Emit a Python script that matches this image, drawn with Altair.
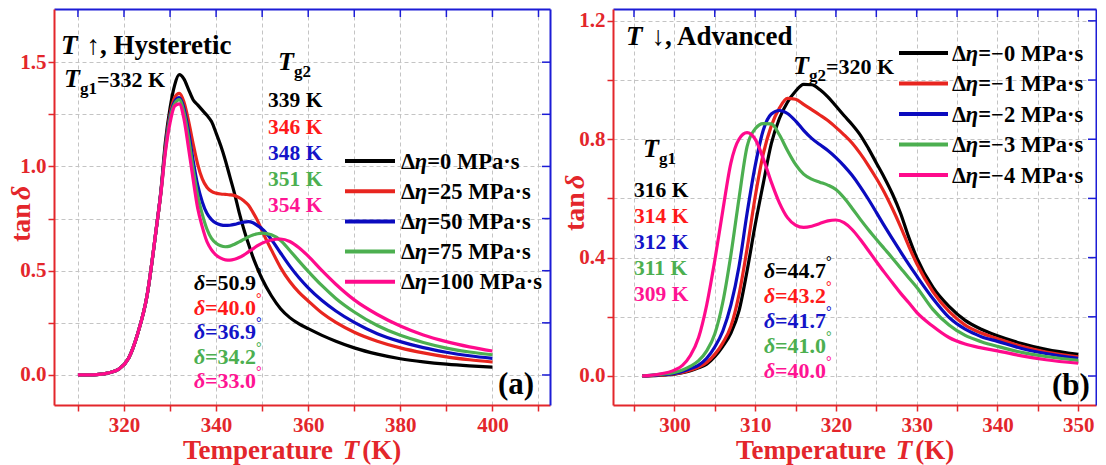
import altair as alt
import pandas as pd

FONT = "Liberation Serif, Times New Roman, DejaVu Serif, serif"
AX_RED = "#e3262b"
AX_BLUE = "#1c1cd6"
GRID = "#c4c4c4"
LINE_COLORS = ["#000000", "#e8251f", "#0b0bbf", "#4caf50", "#ff0a8c"]
TEXT_COLORS = ["#000000", "#ff1a1a", "#1414c8", "#4caf50", "#ff1493"]

# ---------------- data: panel (a), heating ----------------
temp_a = [310, 314, 317, 319, 321, 323, 325, 327, 328, 329, 330, 331, 332, 333, 334, 335,
          336, 337, 338, 339, 340, 341, 342, 343, 344, 345, 346, 347, 348, 349, 350, 352,
          354, 356, 358, 360, 363, 366, 370, 375, 380, 385, 390, 395, 400]
tan_a_0 = [0, 0.002, 0.012, 0.03, 0.08, 0.2, 0.38, 0.7, 0.88,
           1.12, 1.28, 1.39, 1.44, 1.42, 1.37, 1.32, 1.295, 1.27, 1.245, 1.215, 1.16, 1.10,
           1.03, 0.95, 0.87, 0.78, 0.70, 0.63, 0.565, 0.51, 0.46,
           0.38, 0.318, 0.275, 0.245, 0.222,
           0.19, 0.162, 0.13, 0.1, 0.078, 0.063, 0.052, 0.044, 0.038]
tan_a_25 = [0, 0.002, 0.012, 0.03, 0.08, 0.2, 0.38, 0.7, 0.875,
            1.10, 1.25, 1.33, 1.35, 1.31, 1.22, 1.11, 1.01, 0.94, 0.90, 0.88, 0.872, 0.868,
            0.866, 0.864, 0.86, 0.85, 0.835, 0.815, 0.78, 0.74, 0.69,
            0.60, 0.515, 0.448, 0.396, 0.355,
            0.297, 0.252, 0.205, 0.162, 0.13, 0.106, 0.087, 0.073, 0.062]
tan_a_50 = [0, 0.002, 0.012, 0.03, 0.08, 0.2, 0.38, 0.7, 0.875,
            1.09, 1.24, 1.31, 1.33, 1.28, 1.17, 1.03, 0.91, 0.83, 0.775, 0.745, 0.728, 0.72,
            0.717, 0.718, 0.722, 0.728, 0.733, 0.735, 0.73, 0.716, 0.70,
            0.65, 0.585, 0.522, 0.466, 0.418,
            0.357, 0.307, 0.252, 0.198, 0.16, 0.131, 0.109, 0.092, 0.08]
tan_a_75 = [0, 0.002, 0.012, 0.03, 0.08, 0.2, 0.38, 0.7, 0.87,
            1.08, 1.23, 1.30, 1.32, 1.26, 1.14, 0.99, 0.86, 0.77, 0.70, 0.655, 0.632, 0.62,
            0.615, 0.618, 0.627, 0.638, 0.65, 0.662, 0.671, 0.677, 0.68,
            0.672, 0.645, 0.597, 0.546, 0.497,
            0.428, 0.367, 0.302, 0.237, 0.19, 0.156, 0.129, 0.11, 0.097]
tan_a_100 = [0, 0.002, 0.012, 0.03, 0.08, 0.2, 0.38, 0.7, 0.87,
             1.07, 1.21, 1.29, 1.30, 1.23, 1.09, 0.94, 0.80, 0.71, 0.64, 0.60, 0.575, 0.56,
             0.552, 0.551, 0.555, 0.563, 0.575, 0.59, 0.605, 0.62, 0.632,
             0.647, 0.652, 0.64, 0.61, 0.57,
             0.5, 0.435, 0.36, 0.29, 0.235, 0.192, 0.16, 0.135, 0.115]
eta_a = ["0", "25", "50", "75", "100"]
tg2_a = ["339 K", "346 K", "348 K", "351 K", "354 K"]
delta_a = ["50.9", "40.0", "36.9", "34.2", "33.0"]

# ---------------- data: panel (b), cooling ----------------
temp_b = [296, 298, 300, 301, 302, 303, 304, 305, 306, 307, 308, 309, 310, 311, 312, 313,
          314, 315, 316, 317, 318, 319, 320, 321, 322, 323, 324, 325, 326, 327, 328, 329,
          330, 332, 334, 336, 338, 340, 343, 346, 350]
tan_b_0 = [0, 0.002, 0.006, 0.011, 0.018, 0.028, 0.04, 0.065, 0.1, 0.145,
           0.22, 0.355, 0.51, 0.65, 0.785, 0.87, 0.925, 0.962, 0.985, 0.984,
           0.968, 0.943, 0.912, 0.88, 0.85, 0.815, 0.77, 0.72, 0.67, 0.615,
           0.55, 0.47, 0.40, 0.30, 0.235, 0.188, 0.158, 0.136, 0.11, 0.09, 0.073]
tan_b_1 = [0, 0.003, 0.007, 0.012, 0.02, 0.03, 0.046, 0.073, 0.112, 0.168,
           0.275, 0.43, 0.605, 0.75, 0.845, 0.905, 0.938, 0.935, 0.918, 0.9,
           0.882, 0.863, 0.84, 0.815, 0.787, 0.752, 0.712, 0.668, 0.62, 0.565,
           0.505, 0.44, 0.38, 0.285, 0.218, 0.172, 0.145, 0.126, 0.1, 0.081, 0.065]
tan_b_2 = [0, 0.004, 0.009, 0.015, 0.025, 0.037, 0.06, 0.098, 0.152, 0.24,
           0.37, 0.55, 0.71, 0.83, 0.885, 0.897, 0.887, 0.862, 0.83, 0.803,
           0.782, 0.762, 0.738, 0.71, 0.678, 0.64, 0.598, 0.553, 0.507, 0.463,
           0.42, 0.378, 0.338, 0.262, 0.198, 0.158, 0.133, 0.117, 0.093, 0.076, 0.06]
tan_b_3 = [0, 0.005, 0.012, 0.02, 0.033, 0.052, 0.085, 0.142, 0.25, 0.41,
           0.6, 0.775, 0.835, 0.853, 0.852, 0.815, 0.762, 0.715, 0.682, 0.665,
           0.655, 0.645, 0.63, 0.602, 0.567, 0.53, 0.495, 0.462, 0.43, 0.398,
           0.365, 0.332, 0.3, 0.225, 0.172, 0.137, 0.116, 0.1, 0.08, 0.066, 0.053]
tan_b_4 = [0, 0.006, 0.02, 0.036, 0.07, 0.13, 0.24, 0.39, 0.56, 0.72,
           0.8, 0.822, 0.8, 0.735, 0.655, 0.585, 0.535, 0.51, 0.502, 0.506,
           0.515, 0.524, 0.527, 0.518, 0.495, 0.462, 0.425, 0.387, 0.35, 0.315,
           0.28, 0.248, 0.215, 0.168, 0.13, 0.108, 0.095, 0.085, 0.068, 0.055, 0.043]
eta_b = ["\u22120", "\u22121", "\u22122", "\u22123", "\u22124"]
tg1_b = ["316 K", "314 K", "312 K", "311 K", "309 K"]
delta_b = ["44.7", "43.2", "41.7", "41.0", "40.0"]

# ---------------- axes ----------------
xticks_a = [310, 320, 330, 340, 350, 360, 370, 380, 390, 400, 410]
yticks_a = [0, 0.25, 0.5, 0.75, 1.0, 1.25, 1.5]
xticks_b = [295, 300, 305, 310, 315, 320, 325, 330, 335, 340, 345, 350]
yticks_b = [0, 0.2, 0.4, 0.6, 0.8, 1.0, 1.2]

# ---------------- text width helper (Times-like bold metrics) ----------------
W_BOLD = {' ': 250, '(': 333, ')': 333, ',': 250, '.': 250, '=': 570, 'K': 778, 'T': 667,
          'e': 444, 'm': 833, 'p': 556, 'r': 444, 'a': 500, 't': 333, 'u': 556, 'g': 500,
          'H': 778, 'y': 500, 's': 389, 'i': 278, 'c': 444, 'A': 722, 'd': 556, 'v': 500,
          'n': 556, 'M': 944, 'P': 611, '\u00b7': 250, '\u0394': 612, '\u2212': 570,
          '\u2191': 500, '\u2193': 500, '\u00b0': 400, 'b': 556}
W_ITAL = {'T': 611, '\u03b4': 500, '\u03b7': 556}


def tw(s, size, ital=False):
    tab = W_ITAL if ital else W_BOLD
    return sum(tab.get(ch, 500) for ch in s) / 1000.0 * size


def add_seq(rows, x, y, segs, color, angle=0):
    for seg in segs:
        text, ital, size, dy = seg[:4]
        gap = seg[4] if len(seg) > 4 else 0
        if angle == 0:
            rows.append(dict(px=x, py=y + dy, text=text, color=color, size=size, ital=ital, angle=0))
            x += tw(text, size, ital) + gap
        else:
            rows.append(dict(px=x + dy, py=y, text=text, color=color, size=size, ital=ital, angle=angle))
            y -= tw(text, size, ital) + gap


def build_panel(temps, series, dom_x, dom_y, W, H, xticks, yticks, xlab_expr, ylab_expr,
                rows, legend_rows):
    xs = alt.Scale(domain=dom_x, nice=False, zero=False)
    ys = alt.Scale(domain=dom_y, nice=False, zero=False)

    def dx(px):
        return dom_x[0] + px / W * (dom_x[1] - dom_x[0])

    def dy(py):
        return dom_y[1] - py / H * (dom_y[1] - dom_y[0])

    recs = []
    for k, vals in enumerate(series):
        for t, v in zip(temps, vals):
            recs.append(dict(T=t, v=v, k=str(k)))
    df = pd.DataFrame(recs)

    common_axis = dict(labelColor=AX_RED, labelFont=FONT, labelFontWeight="bold", labelFontSize=21,
                       domainColor=AX_RED, domainWidth=2, tickColor=AX_RED, tickWidth=1.5, tickSize=6,
                       grid=True, gridColor=GRID, gridDash=[4, 3], gridWidth=1, title=None,
                       labelOverlap=False, labelFlush=False)
    lines = alt.Chart(df).mark_line(strokeWidth=3.2, interpolate="monotone").encode(
        x=alt.X("T:Q", scale=xs, axis=alt.Axis(orient="bottom", values=xticks, labelExpr=xlab_expr,
                                              labelPadding=3, **common_axis)),
        y=alt.Y("v:Q", scale=ys, axis=alt.Axis(orient="left", values=yticks, labelExpr=ylab_expr,
                                              labelPadding=2, **common_axis)),
        color=alt.Color("k:N", scale=alt.Scale(domain=["0", "1", "2", "3", "4"], range=LINE_COLORS), legend=None),
        order=alt.Order("k:N"),
    )

    top = alt.Chart(pd.DataFrame({"T": xticks})).mark_rule(color=AX_BLUE, strokeWidth=1.5).encode(
        x=alt.X("T:Q", scale=xs, axis=alt.Axis(orient="top", labels=False, ticks=False, grid=False,
                                              domainColor=AX_BLUE, domainWidth=2, title=None)),
        y=alt.value(0), y2=alt.value(8))
    right = alt.Chart(pd.DataFrame({"v": yticks})).mark_rule(color=AX_BLUE, strokeWidth=1.5).encode(
        y=alt.Y("v:Q", scale=ys, axis=alt.Axis(orient="right", labels=False, ticks=False, grid=False,
                                              domainColor=AX_BLUE, domainWidth=2, title=None)),
        x=alt.value(W - 8), x2=alt.value(W))

    leg = pd.DataFrame([dict(x1=dx(a), x2=dx(b), y=dy(c), c=col) for a, b, c, col in legend_rows])
    legend_lines = alt.Chart(leg).mark_rule(strokeWidth=4).encode(
        x=alt.X("x1:Q", scale=xs, axis=None), x2="x2:Q",
        y=alt.Y("y:Q", scale=ys, axis=None), color=alt.Color("c:N", scale=None))

    tdf = pd.DataFrame(rows)
    tdf["x"] = tdf["px"].apply(dx)
    tdf["y"] = tdf["py"].apply(dy)
    layers = [lines, top, right, legend_lines]
    for ital in (False, True):
        sub = tdf[tdf["ital"] == ital][["x", "y", "text", "color", "size", "angle"]]
        layers.append(alt.Chart(sub).mark_text(
            align="left", baseline="alphabetic", font=FONT, fontWeight="bold",
            fontStyle="italic" if ital else "normal").encode(
            x=alt.X("x:Q", scale=xs, axis=None), y=alt.Y("y:Q", scale=ys, axis=None),
            text="text:N", color=alt.Color("color:N", scale=None),
            size=alt.Size("size:Q", scale=None), angle=alt.Angle("angle:Q", scale=None)))
    return alt.layer(*layers).resolve_axis(x="independent", y="independent").properties(width=W, height=H)


LEG = 22.5
TXT = 21.5
DEL = 22
TITLE = 27
AXT = 27
YT = 28
# ---------------- panel (a) annotations ----------------
WA, HA = 496, 396
rows_a = []
add_seq(rows_a, 7, 45, [("T", True, TITLE, 0, 9), ("\u2191", False, TITLE, 0, 0),
                        (", Hysteretic", False, TITLE, 0)], "#000000")
add_seq(rows_a, 10, 78, [("T", True, 26, 0), ("g1", False, 17, 7), ("=332 K", False, 22, 0)], "#000000")
add_seq(rows_a, 224, 61, [("T", True, 26, 0), ("g2", False, 17, 7)], "#000000")
for i, s in enumerate(tg2_a):
    add_seq(rows_a, 214, [98, 125, 151, 177, 203][i], [(s, False, TXT, 0)], TEXT_COLORS[i])
legend_a = []
for i, e in enumerate(eta_a):
    yy = 152 + 30.2 * i
    legend_a.append((291, 341, yy, LINE_COLORS[i]))
    add_seq(rows_a, 347, yy + 7.5, [("\u0394", False, LEG, 0), ("\u03b7", True, LEG, 0),
                                    ("=" + e + " MPa\u00b7s", False, LEG, 0)], "#000000")
for i, d in enumerate(delta_a):
    add_seq(rows_a, 140, [281, 305.5, 330, 354.5, 379][i],
            [("\u03b4", True, DEL, 0), ("=" + d, False, DEL, 0), ("\u00b0", False, 14, -12)], TEXT_COLORS[i])
add_seq(rows_a, 444, 385, [("(a)", False, 31, 0)], "#000000")
add_seq(rows_a, 129, 450, [("Temperature ", False, AXT, 0), ("T", True, AXT, 0, 3), (" (K)", False, AXT, 0)], AX_RED)
add_seq(rows_a, -24, 233, [("tan", False, YT, 0, 3), ("\u03b4", True, YT, 0)], AX_RED, angle=270)

panel_a = build_panel(temp_a, [tan_a_0, tan_a_25, tan_a_50, tan_a_75, tan_a_100],
                      [304.8, 412.5], [-0.144, 1.755], WA, HA, xticks_a, yticks_a,
                      "datum.value % 20 == 0 && datum.value >= 320 && datum.value <= 400 ? format(datum.value, 'd') : ''",
                      "abs(datum.value * 2 - round(datum.value * 2)) < 0.001 ? format(datum.value, '.1f') : ''",
                      rows_a, legend_a)

# ---------------- panel (b) annotations ----------------
WB, HB = 483, 396
rows_b = []
add_seq(rows_b, 13, 36, [("T", True, TITLE, 0, 9), ("\u2193", False, TITLE, 0, 0),
                         (", Advanced", False, TITLE, 0)], "#000000")
add_seq(rows_b, 180, 65, [("T", True, 26, 0), ("g2", False, 17, 7), ("=320 K", False, 22, 0)], "#000000")
add_seq(rows_b, 30, 148, [("T", True, 26, 0), ("g1", False, 17, 7)], "#000000")
for i, s in enumerate(tg1_b):
    add_seq(rows_b, 21, [188, 214, 240, 266, 292][i], [(s, False, TXT, 0)], TEXT_COLORS[i])
legend_b = []
for i, e in enumerate(eta_b):
    yy = 44 + 30.5 * i
    legend_b.append((286, 335, yy, LINE_COLORS[i]))
    add_seq(rows_b, 339, yy + 7.5, [("\u0394", False, LEG, 0), ("\u03b7", True, LEG, 0),
                                    ("=" + e + " MPa\u00b7s", False, LEG, 0)], "#000000")
for i, d in enumerate(delta_b):
    add_seq(rows_b, 151, [269, 294, 319, 344, 369][i],
            [("\u03b4", True, DEL, 0), ("=" + d, False, DEL, 0), ("\u00b0", False, 14, -12)], TEXT_COLORS[i])
add_seq(rows_b, 439, 386, [("(b)", False, 31, 0)], "#000000")
add_seq(rows_b, 123, 450, [("Temperature ", False, AXT, 0), ("T", True, AXT, 0, 3), (" (K)", False, AXT, 0)], AX_RED)
add_seq(rows_b, -29, 222, [("tan", False, YT, 0, 3), ("\u03b4", True, YT, 0)], AX_RED, angle=270)

panel_b = build_panel(temp_b, [tan_b_0, tan_b_1, tan_b_2, tan_b_3, tan_b_4],
                      [292.4, 352.2], [-0.098, 1.24], WB, HB, xticks_b, yticks_b,
                      "datum.value % 10 == 0 ? format(datum.value, 'd') : ''",
                      "round(datum.value * 10) % 4 == 0 ? format(datum.value, '.1f') : ''",
                      rows_b, legend_b)

chart = alt.hconcat(panel_a, panel_b, spacing=11).properties(
    padding={"left": 0, "top": 0, "right": 0, "bottom": 0}
).configure_view(stroke=None)

chart.save("out.html", embed_options={"renderer": "svg", "actions": False})
